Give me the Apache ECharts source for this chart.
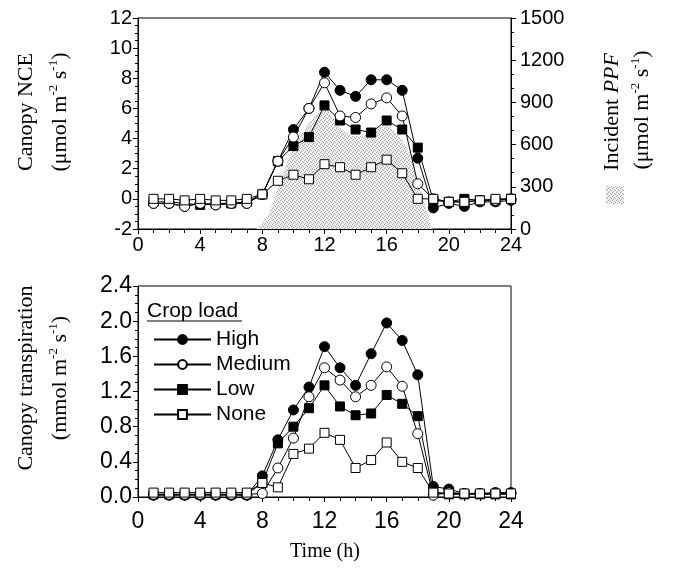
<!DOCTYPE html>
<html><head><meta charset="utf-8">
<script src="https://cdn.jsdelivr.net/npm/echarts@6/dist/echarts.min.js"></script>
<style>html,body{margin:0;padding:0;background:#fff}#c{width:678px;height:572px}</style>
</head><body><div id="c"></div>
<script>
// ---- data ----
const hours = [1,2,3,4,5,6,7,8,9,10,11,12,13,14,15,16,17,18,19,20,21,22,23,24];
const seriesNames = ['High','Medium','Low','None'];
// Canopy NCE (µmol m-2 s-1)
const nceHigh   = [-0.3,-0.3,-0.5,-0.3,-0.4,-0.3,-0.3,0.3,2.5,4.6,6.0,8.4,7.2,6.8,7.9,7.9,7.2,2.7,-0.6,-0.3,-0.5,-0.2,-0.2,-0.1];
const nceMedium = [-0.3,-0.3,-0.5,-0.3,-0.4,-0.3,-0.3,0.3,2.5,4.1,6.0,7.7,5.5,5.4,6.3,6.7,5.5,1.0,0.0,-0.2,-0.2,-0.1,-0.1,0.0];
const nceLow    = [-0.2,-0.2,-0.3,-0.4,-0.3,-0.3,-0.2,0.3,2.5,3.5,4.1,6.2,5.2,4.6,4.4,5.2,4.6,3.4,-0.1,-0.2,0.0,-0.1,-0.1,0.0];
const nceNone   = [0.0,0.0,-0.1,0.0,-0.1,-0.1,0.0,0.3,1.2,1.6,1.3,2.3,2.1,1.6,2.1,2.6,1.7,0.0,0.0,-0.2,-0.2,-0.1,0.0,0.0];
// Canopy transpiration (mmol m-2 s-1)
const trHigh   = [0.02,0.02,0.02,0.02,0.02,0.02,0.02,0.24,0.65,0.99,1.25,1.71,1.47,1.27,1.63,1.98,1.78,1.39,0.12,0.09,0.04,0.04,0.05,0.05];
const trMedium = [0.03,0.03,0.03,0.03,0.03,0.03,0.03,0.04,0.33,0.67,1.14,1.47,1.33,1.14,1.27,1.48,1.26,0.72,0.02,0.05,0.04,0.04,0.04,0.04];
const trLow    = [0.03,0.03,0.03,0.03,0.03,0.03,0.03,0.16,0.61,0.80,1.01,1.27,1.03,0.93,0.95,1.16,1.06,0.92,0.06,0.03,0.03,0.03,0.03,0.03];
const trNone   = [0.05,0.05,0.05,0.05,0.05,0.05,0.05,0.16,0.11,0.49,0.55,0.73,0.65,0.33,0.42,0.62,0.40,0.33,0.05,0.04,0.04,0.04,0.04,0.04];
// Incident PPF (µmol m-2 s-1)
const ppfTime  = [7.6,8,8.5,9,9.5,10,10.5,11,11.5,12,12.5,13,13.5,14,14.5,15,15.5,16,16.5,17,17.5,18,18.5,18.9];
const ppfValue = [0,40,130,300,440,570,670,750,820,870,800,720,680,660,670,690,720,730,690,630,520,340,160,0];
// axis ticks
const xTicks = {min:0, max:24, interval:4};
const nceTicks = {min:-2, max:12, interval:2};
const ppfTicks = {min:0, max:1500, interval:300};
const trTicks = {min:0, max:2.4, interval:0.4};

// ---- styles ----
const SANS = 'Liberation Sans, Arial, sans-serif';
const SERIF = 'Liberation Serif, Times New Roman, serif';
const pat = document.createElement('canvas');
pat.width = 4; pat.height = 4;
(function(){
  const g = pat.getContext('2d');
  g.fillStyle = '#f0f0f0'; g.fillRect(0,0,4,4);
  g.fillStyle = '#a4a4a4';
  [[0,0],[2,1],[1,3],[3,2]].forEach(p=>g.fillRect(p[0],p[1],1,1));
})();
const patternFill = {image: pat, repeat: 'repeat'};

const markerStyles = {
  High:   {symbol:'circle', fill:'#000', size:10},
  Medium: {symbol:'circle', fill:'#fff', size:10},
  Low:    {symbol:'rect',   fill:'#000', size:9},
  None:   {symbol:'rect',   fill:'#fff', size:9}
};
const zOrder = {High:4, Medium:5, Low:3, None:6};
function pairs(xs, ys){ return xs.map((x,i)=>[x, ys[i]]); }
function lineSeries(name, vals, xi, yi){
  const m = markerStyles[name];
  return {
    name, type:'line', xAxisIndex:xi, yAxisIndex:yi,
    data: pairs(hours, vals),
    symbol: m.symbol, symbolSize: m.size, z: zOrder[name],
    lineStyle:{color:'#000', width:1},
    itemStyle:{color:m.fill, borderColor:'#000', borderWidth:1},
    emphasis:{disabled:true}, animation:false
  };
}

const gridTop = {left:138, top:18, width:373, height:211, show:true, borderColor:'#000', borderWidth:1};
const gridBot = {left:138, top:286, width:373, height:211, show:true, borderColor:'#000', borderWidth:1};

function xAxis(gi, fs, margin){
  return {
    type:'value', gridIndex:gi, min:xTicks.min, max:xTicks.max, interval:xTicks.interval,
    axisLine:{onZero:false, lineStyle:{color:'#000', width:1}},
    axisTick:{show:true, inside:false, length:5, lineStyle:{color:'#000'}},
    minorTick:{show:true, splitNumber:4, length:4, lineStyle:{color:'#000'}},
    splitLine:{show:false},
    axisLabel:{color:'#000', fontSize:fs, fontFamily:SANS, margin:margin}
  };
}
function yAxis(gi, t, pos, fs, margin, minor, fmt){
  return {
    type:'value', gridIndex:gi, position:pos, min:t.min, max:t.max, interval:t.interval,
    axisLine:{show:true, onZero:false, lineStyle:{color:'#000', width:1}},
    axisTick:{show:true, inside:false, length:5, lineStyle:{color:'#000'}},
    minorTick:{show:true, splitNumber:minor, length:3, lineStyle:{color:'#000'}},
    splitLine:{show:false},
    axisLabel:{color:'#000', fontSize:fs, fontFamily:SANS, margin:margin, formatter:fmt}
  };
}

const supRich = {
  n:{fontSize:22, fontFamily:SERIF, lineHeight:26, verticalAlign:'middle', fill:'#000'},
  sup:{fontSize:13, fontFamily:SERIF, lineHeight:13, verticalAlign:'top', fill:'#000'},
  i:{fontSize:22, fontFamily:SERIF, fontStyle:'italic', lineHeight:26, fill:'#000'}
};
function vText(x, y, text){
  return {
    type:'text', x:x, y:y, rotation:Math.PI/2,
    style:{text:text, rich:supRich, textAlign:'center', textVerticalAlign:'middle', fill:'#000',
           font:'22px '+SERIF}
  };
}

const option = {
  animation:false,
  backgroundColor:'#fff',
  grid:[gridTop, gridBot],
  xAxis:[xAxis(0,20,6), xAxis(1,23,13)],
  yAxis:[
    yAxis(0, nceTicks, 'left', 20, 6, 4, v=>String(v)),
    yAxis(0, ppfTicks, 'right', 20, 9, 3, v=>String(v)),
    yAxis(1, trTicks, 'left', 23, 6, 4, v=>v.toFixed(1))
  ],
  legend:{
    orient:'vertical', left:148, top:324, itemWidth:57, itemHeight:11, itemGap:4,
    data:seriesNames, selectedMode:false,
    textStyle:{color:'#000', fontSize:21, fontFamily:SANS}
  },
  series:[
    {
      name:'PPF', type:'line', xAxisIndex:0, yAxisIndex:1, data:pairs(ppfTime, ppfValue),
      symbol:'none', smooth:0.3, lineStyle:{width:0}, areaStyle:{color:patternFill, opacity:1}, z:1,
      emphasis:{disabled:true}
    },
    lineSeries('High', nceHigh, 0, 0),
    lineSeries('Medium', nceMedium, 0, 0),
    lineSeries('Low', nceLow, 0, 0),
    lineSeries('None', nceNone, 0, 0),
    lineSeries('High', trHigh, 1, 2),
    lineSeries('Medium', trMedium, 1, 2),
    lineSeries('Low', trLow, 1, 2),
    lineSeries('None', trNone, 1, 2)
  ],
  graphic:[
    vText(26, 112, '{n|Canopy NCE}'),
    vText(60, 112, '{n|(μmol m}{sup|-2}{n| s}{sup|-1}{n|)}'),
    vText(26, 378, '{n|Canopy transpiration}'),
    vText(60, 378, '{n|(mmol m}{sup|-2}{n| s}{sup|-1}{n|)}'),
    vText(612, 112, '{n|Incident }{i|PPF}'),
    vText(642, 110, '{n|(μmol m}{sup|-2}{n| s}{sup|-1}{n|)}'),
    {type:'rect', shape:{x:606, y:186, width:18, height:18}, style:{fill:patternFill}},
    {type:'text', x:325, y:552, style:{text:'Time (h)', font:'20px '+SERIF, fill:'#000', textAlign:'center', textVerticalAlign:'middle'}},
    {type:'text', x:147, y:311, style:{text:'Crop load', font:'21px '+SANS, fill:'#000', textAlign:'left', textVerticalAlign:'middle'}},
    {type:'line', shape:{x1:147, y1:321, x2:242, y2:321}, style:{stroke:'#000', lineWidth:1}}
  ]
};
const chart = echarts.init(document.getElementById('c'), null, {renderer:'canvas'});
chart.setOption(option);
</script>
</body></html>
